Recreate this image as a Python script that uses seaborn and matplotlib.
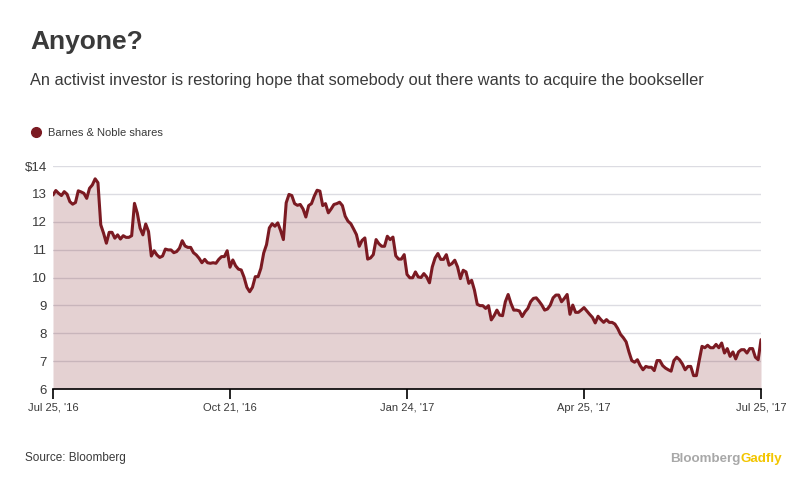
import numpy as np
import pandas as pd
import seaborn as sns
import matplotlib.pyplot as plt
from matplotlib.lines import Line2D

# ===== Data (one value per trading day) =====
prices = [
    12.96, 13.12, 13.02, 12.94, 13.08, 12.99, 12.72, 12.63, 12.69, 13.11, 13.07, 13.02, 12.84, 13.20, 13.32,
    13.54, 13.40, 11.89, 11.59, 11.23, 11.62, 11.62, 11.41, 11.53, 11.38, 11.50, 11.44, 11.44, 11.50, 12.66,
    12.31, 11.77, 11.53, 11.92, 11.65, 10.77, 10.96, 10.81, 10.72, 10.77, 11.02, 10.99, 10.99, 10.89, 10.93,
    11.05, 11.32, 11.13, 11.08, 11.08, 10.89, 10.81, 10.69, 10.53, 10.65, 10.53, 10.51, 10.53, 10.51, 10.65,
    10.75, 10.75, 10.96,
    10.37, 10.63, 10.42, 10.30, 10.27, 10.01, 9.65, 9.49, 9.65, 10.03, 10.03, 10.33, 10.88, 11.18, 11.78,
    11.93, 11.84, 11.96, 11.69, 11.36, 12.68, 12.98, 12.94, 12.65, 12.59, 12.62, 12.46, 12.17, 12.58, 12.65,
    12.92, 13.13, 13.10, 12.58, 12.65, 12.32, 12.46, 12.62, 12.65, 12.70, 12.58, 12.20, 12.02, 11.93, 11.74,
    11.54, 11.12, 11.33, 11.42, 10.66, 10.70, 10.82, 11.36, 11.21, 11.12, 11.12, 11.48, 11.36, 11.45, 10.78,
    10.66, 10.66, 10.82,
    10.11, 9.99, 9.99, 10.20, 10.02, 10.00, 10.14, 10.02, 9.81, 10.38, 10.70, 10.86, 10.65, 10.65, 10.82,
    10.44, 10.50, 10.62, 10.38, 9.96, 10.26, 10.20, 9.79, 9.90, 9.55, 9.04, 8.99, 8.99, 8.89, 8.99,
    8.48, 8.63, 8.83, 8.65, 8.63, 9.13, 9.39, 9.07, 8.83, 8.83, 8.80, 8.60, 8.77, 8.89, 9.13,
    9.25, 9.27, 9.15, 9.01, 8.83, 8.87, 9.01, 9.27, 9.37, 9.37, 9.13, 9.25, 9.39, 8.68, 9.01,
    8.75, 8.75, 8.83, 8.92, 8.80, 8.68,
    8.57, 8.37, 8.61, 8.49, 8.39, 8.49, 8.39, 8.39, 8.33, 8.17, 7.96, 7.84, 7.69, 7.33, 7.02,
    6.96, 7.05, 6.84, 6.69, 6.81, 6.78, 6.78, 6.66, 7.02, 7.02, 6.84, 6.75, 6.69, 6.64, 7.02,
    7.14, 7.05, 6.90, 6.69, 6.81, 6.81, 6.48, 6.48, 7.02, 7.53, 7.48, 7.57, 7.48, 7.48, 7.60,
    7.48, 7.65, 7.29, 7.45, 7.17, 7.33, 7.08, 7.33, 7.41, 7.41, 7.29, 7.45, 7.45, 7.14, 7.05,
    7.77,
]
x_tick_labels = ["Jul 25, '16", "Oct 21, '16", "Jan 24, '17", "Apr 25, '17", "Jul 25, '17"]
y_ticks = [6, 7, 8, 9, 10, 11, 12, 13, 14]
y_tick_labels = ["6", "7", "8", "9", "10", "11", "12", "13", "$14"]
series_name = "Barnes & Noble shares"

LINE = "#7b1a22"
TEXT = "#3a3a3a"

sns.set_style("white")
plt.rcParams["font.family"] = ["Liberation Sans", "DejaVu Sans"]

df = pd.DataFrame({"day": np.arange(len(prices)), "price": prices})

fig = plt.figure(figsize=(8.12, 4.97), dpi=100)
ax = fig.add_axes([53 / 812, 1 - 389 / 497, 708 / 812, 223 / 497])

ax.fill_between(df["day"], df["price"], 6, color=LINE, alpha=0.2, linewidth=0, zorder=2)
sns.lineplot(data=df, x="day", y="price", color=LINE, linewidth=2.2, ax=ax, zorder=3)

last = len(prices) - 1
ax.set_xlim(0, last)
ax.set_ylim(6, 14)
ax.set_xticks([last * k / 4 for k in range(5)])
ax.set_xticklabels(x_tick_labels, fontsize=8, color=TEXT)
ax.set_yticks(y_ticks)
ax.set_yticklabels(y_tick_labels, fontsize=9.5, color=TEXT)
ax.set_xlabel("")
ax.set_ylabel("")
ax.grid(axis="y", color="#dcdce2", linewidth=1)
ax.set_axisbelow(True)
for side in ["left", "right", "top"]:
    ax.spines[side].set_visible(False)
ax.spines["bottom"].set_color("black")
ax.spines["bottom"].set_linewidth(1.2)
ax.spines["bottom"].set_zorder(4)
ax.tick_params(axis="x", bottom=True, length=7, width=1.2, color="black", pad=3)
ax.tick_params(axis="y", left=False, pad=1)

fig.text(30 / 812, 1 - 42 / 497, "Anyone?", fontsize=19, fontweight="bold", color=TEXT, va="center")
fig.text(30 / 812, 1 - 80 / 497, "An activist investor is restoring hope that somebody out there wants to acquire the bookseller",
         fontsize=11.8, color=TEXT, va="center")

handle = Line2D([], [], marker="o", linestyle="none", color=LINE, markersize=7)
fig.legend([handle], [series_name], loc="center left", bbox_to_anchor=(20 / 812, 1 - 133 / 497),
           frameon=False, fontsize=8, handletextpad=0.1, borderaxespad=0, labelcolor=TEXT)

fig.text(25 / 812, 1 - 458 / 497, "Source: Bloomberg", fontsize=8.5, color=TEXT, va="center")
brand = fig.text(670 / 812, 1 - 459 / 497, "Bloomberg", fontsize=9.6, fontweight="bold", color="#a8a8a8", va="center")
fig.canvas.draw()
bb = brand.get_window_extent()
fig.text(bb.x1 / 812, 1 - 459 / 497, "Gadfly", fontsize=9.6, fontweight="bold", color="#f2c500", va="center")

fig.savefig("out.png", dpi=100)
